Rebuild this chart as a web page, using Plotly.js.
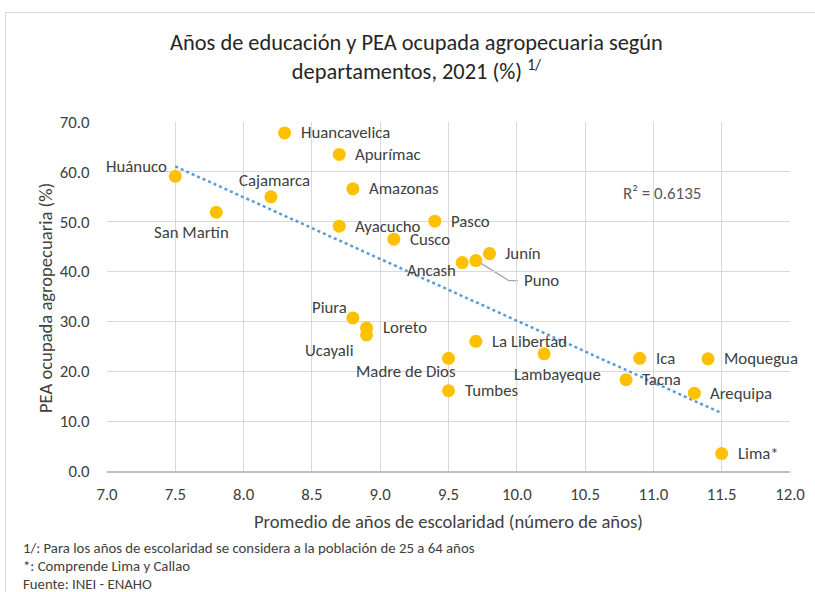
<!DOCTYPE html>
<html><head><meta charset="utf-8">
<script src="https://cdn.plot.ly/plotly-3.0.1.min.js"></script>
<style>
html,body{margin:0;padding:0;background:#fff;}
#wrap{position:relative;width:815px;height:592px;overflow:hidden;}
#chart{position:absolute;left:0;top:0;width:815px;height:592px;}
#frame{position:absolute;left:5px;top:12px;width:820px;height:600px;border:1px solid #d9d9d9;pointer-events:none;}
</style></head>
<body><div id="wrap"><div id="chart"></div><div id="frame"></div></div>
<script>
// ---- data ----
const departamentos = ["Huancavelica","Apurímac","Huánuco","Cajamarca","Amazonas","San Martín","Ayacucho","Pasco","Cusco","Junín","Puno","Ancash","Piura","Loreto","Ucayali","La Libertad","Madre de Dios","Lambayeque","Tumbes","Ica","Moquegua","Tacna","Arequipa","Lima*"];
const aniosEscolaridad = [8.3,8.7,7.5,8.2,8.8,7.8,8.7,9.4,9.1,9.8,9.7,9.6,8.8,8.9,8.9,9.7,9.5,10.2,9.5,10.9,11.4,10.8,11.3,11.5];
const peaAgro = [67.8,63.5,59.1,55.0,56.6,51.9,49.1,50.1,46.5,43.6,42.2,41.8,30.7,28.7,27.3,26.0,22.6,23.5,16.1,22.6,22.5,18.3,15.6,3.5];
const r2Text = "R² = 0.6135";
const xTicks = [7.0,7.5,8.0,8.5,9.0,9.5,10.0,10.5,11.0,11.5,12.0];
const yTicks = [0,10,20,30,40,50,60,70];
const notas = ["1/: Para los años de escolaridad se considera a la población de 25 a 64 años","*: Comprende Lima y Callao","Fuente: INEI - ENAHO"];

// ---- label placement (style) ----
const place = {
  "Huánuco":{a:"right",dx:-6,dy:10},
  "Cajamarca":{a:"center",dx:4,dy:16},
  "San Martín":{a:"center",dx:-25,dy:-20},
  "Ancash":{a:"right",dx:-4,dy:-8},
  "Puno":{a:"left",dx:46,dy:-20},
  "Piura":{a:"right",dx:-4,dy:10},
  "Ucayali":{a:"right",dx:-11,dy:-16},
  "Madre de Dios":{a:"center",dx:-43,dy:-13},
  "Lambayeque":{a:"center",dx:13,dy:-21}
};

const FONT = "Carlito, Calibri, 'Liberation Sans Narrow', 'Open Sans', sans-serif";
const W=815,H=592, L=107, R=25, T=122, B=121;
const pw=W-L-R, ph=H-T-B;
const px2x = p => (p-L)/pw;
const px2y = p => (H-B-p)/ph;

// linear trend (least squares)
const n=aniosEscolaridad.length;
const mx=aniosEscolaridad.reduce((a,b)=>a+b,0)/n, my=peaAgro.reduce((a,b)=>a+b,0)/n;
let sxy=0,sxx=0;
for(let i=0;i<n;i++){sxy+=(aniosEscolaridad[i]-mx)*(peaAgro[i]-my);sxx+=(aniosEscolaridad[i]-mx)**2;}
const slope=sxy/sxx, icpt=my-slope*mx;
const xmin=Math.min(...aniosEscolaridad), xmax=Math.max(...aniosEscolaridad);

const LBL = 16.8;
const annotations=[];
const shapes=[];
departamentos.forEach((d,i)=>{
  const p=place[d]||{a:"left",dx:14,dy:0};
  annotations.push({x:aniosEscolaridad[i],y:peaAgro[i],text:d,showarrow:false,xanchor:p.a,yanchor:"middle",
    xshift:p.dx,yshift:p.dy,font:{family:FONT,size:LBL,color:"#404040"}});
  if(d==="Puno"){
    shapes.push({type:"path",xref:"x",yref:"y",xsizemode:"pixel",ysizemode:"pixel",
      xanchor:aniosEscolaridad[i],yanchor:peaAgro[i],path:"M4,-2 L33,-20 L42,-20",
      line:{color:"#a6a6a6",width:1.3},layer:"below"});
  }
});
annotations.push({x:10.76,y:55.7,text:r2Text,showarrow:false,xanchor:"left",yanchor:"middle",font:{family:FONT,size:17,color:"#595959"}});
[548,566,584].forEach((yy,k)=>{
  annotations.push({xref:"paper",yref:"paper",x:px2x(21),y:px2y(yy),text:notas[k],showarrow:false,xanchor:"left",yanchor:"middle",
    font:{family:FONT,size:14.8,color:"#404040"}});
});
annotations.push({xref:"paper",yref:"paper",x:px2x(448),y:px2y(521),text:"Promedio de años de escolaridad (número de años)",showarrow:false,
  xanchor:"center",yanchor:"middle",font:{family:FONT,size:18.6,color:"#404040"}});
annotations.push({xref:"paper",yref:"paper",x:px2x(45),y:px2y(298),text:"PEA ocupada agropecuaria (%)",showarrow:false,textangle:-90,
  xanchor:"center",yanchor:"middle",font:{family:FONT,size:18.6,color:"#404040"}});

const traces=[
  {x:[xmin,xmax],y:[icpt+slope*xmin,icpt+slope*xmax],mode:"lines",line:{color:"#5B9BD5",width:2.5,dash:"dot"},hoverinfo:"skip",showlegend:false},
  {x:aniosEscolaridad,y:peaAgro,text:departamentos,mode:"markers",marker:{color:"#FFC000",size:13},showlegend:false}
];

const layout={
  width:W,height:H,margin:{l:L,r:R,t:T,b:B},
  paper_bgcolor:"#fff",plot_bgcolor:"#fff",
  font:{family:FONT,color:"#404040"},
  title:{text:"Años de educación y PEA ocupada agropecuaria según<br>departamentos, 2021 (%) <sup>1/</sup>",
    font:{family:FONT,size:22.4,color:"#262626"},x:0.511,xanchor:"center",y:1-50/H,yanchor:"top",yref:"container"},
  xaxis:{range:[7,12],tickvals:xTicks,ticktext:xTicks.map(v=>v.toFixed(1)),showgrid:true,gridcolor:"#d9d9d9",gridwidth:1,
    zeroline:false,showline:true,linecolor:"#bfbfbf",linewidth:1.5,mirror:false,ticks:"outside",ticklen:7,tickcolor:"rgba(0,0,0,0)",
    tickfont:{family:FONT,size:16.8,color:"#404040"},fixedrange:true},
  yaxis:{range:[0,70],tickvals:yTicks,ticktext:yTicks.map(v=>v.toFixed(1)),showgrid:true,gridcolor:"#d9d9d9",gridwidth:1,
    zeroline:false,showline:false,ticks:"outside",ticklen:13,tickcolor:"rgba(0,0,0,0)",
    tickfont:{family:FONT,size:16.8,color:"#404040"},fixedrange:true},
  shapes:shapes,
  annotations:annotations
};
Plotly.newPlot("chart",traces,layout,{staticPlot:true});
</script></body></html>
